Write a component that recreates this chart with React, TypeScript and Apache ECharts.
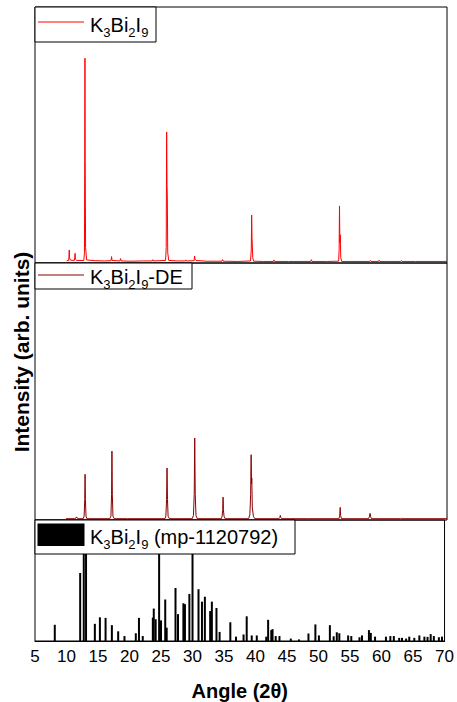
import { useEffect, useRef } from 'react';
import * as echarts from 'echarts';

const FONT = 'Arial, "Liberation Sans", sans-serif';

// x axis
const xMin = 5;
const xMax = 70;
const xStep = 5;

// Measured K3Bi2I9 pattern (angle, relative intensity)
const measuredPattern: [number, number][] = [
  [10.0, 0.9], [10.3, 1.0], [10.36, 2.5], [10.4, 5.1], [10.45, 2.0], [10.6, 1.1],
  [11.2, 1.0], [11.27, 2.0], [11.32, 3.8], [11.38, 1.5], [11.6, 1.0],
  [12.7, 1.0], [12.8, 4], [12.85, 45], [12.88, 80], [12.92, 40], [12.98, 6], [13.15, 1.2],
  [14.5, 0.9], [16.0, 0.8], [17.0, 0.9], [17.08, 2.5], [17.16, 1.0],
  [18.4, 0.8], [18.5, 1.7], [18.6, 0.8],
  [20.0, 0.7], [22.0, 0.8], [23.5, 0.8], [23.6, 1.3], [23.7, 0.8],
  [25.6, 1.0], [25.7, 6], [25.77, 51.2], [25.83, 30], [25.87, 27], [25.94, 4], [26.1, 1.0],
  [27.5, 0.8], [28.7, 0.8], [28.8, 1.2], [28.9, 0.8],
  [30.1, 0.9], [30.18, 2.7], [30.25, 1.5], [30.4, 1.0],
  [32.0, 0.7], [34.5, 0.7], [34.6, 1.3], [34.7, 0.7], [37.0, 0.6],
  [39.0, 0.8], [39.12, 5], [39.18, 18.75], [39.24, 10], [39.3, 10], [39.36, 2], [39.5, 0.7],
  [41.0, 0.6], [42.6, 0.6], [42.7, 1.2], [42.8, 0.6], [45.0, 0.6],
  [48.5, 0.6], [48.6, 1.3], [48.7, 0.6], [51.0, 0.6],
  [52.9, 0.7], [52.98, 5], [53.04, 22.3], [53.1, 8], [53.16, 11], [53.24, 2], [53.4, 0.6],
  [55.0, 0.6], [57.8, 0.6], [57.9, 1.0], [58.0, 0.6],
  [59.2, 0.6], [59.3, 1.1], [59.4, 0.6], [61.0, 0.6],
  [62.7, 0.6], [62.8, 1.0], [62.9, 0.6], [65.0, 0.6], [70.0, 0.6],
];

// K3Bi2I9-DE pattern (angle, relative intensity)
const dePattern: [number, number][] = [
  [9.9, 0.5], [11.3, 0.5], [11.45, 0.8], [11.55, 1.2], [11.65, 0.7], [11.9, 0.5],
  [12.6, 0.5], [12.75, 1.5], [12.85, 8], [12.9, 17.8], [12.95, 8], [13.05, 1.5], [13.2, 0.5],
  [16.8, 0.5], [16.98, 1.5], [17.08, 10], [17.14, 26.8], [17.2, 10], [17.3, 1.5], [17.5, 0.5],
  [19.4, 0.5], [19.5, 0.7], [19.6, 0.5],
  [25.5, 0.5], [25.65, 1.5], [25.76, 8], [25.83, 20.2], [25.9, 8], [26.0, 1.5], [26.2, 0.5],
  [29.8, 0.5], [30.0, 1.8], [30.12, 10], [30.2, 31.9], [30.28, 10], [30.4, 1.8], [30.6, 0.5],
  [34.4, 0.5], [34.52, 1.5], [34.62, 4], [34.67, 8.9], [34.73, 4], [34.82, 1.5], [35.0, 0.5],
  [38.7, 0.5], [38.9, 2], [39.02, 10], [39.1, 25.4], [39.16, 14], [39.2, 16.3], [39.28, 5], [39.45, 1.5], [39.7, 0.5],
  [43.5, 0.5], [43.62, 1.0], [43.7, 1.8], [43.78, 1.0], [43.9, 0.5],
  [48.2, 0.5], [48.3, 0.6], [48.4, 0.5],
  [52.95, 0.5], [53.07, 1.5], [53.15, 4.9], [53.22, 1.8], [53.35, 0.5],
  [57.6, 0.5], [57.75, 1.2], [57.86, 2.6], [57.97, 1.2], [58.1, 0.5],
  [62.7, 0.5], [62.8, 0.7], [62.9, 0.5], [70.0, 0.5],
];

// Reference pattern mp-1120792: stick positions and heights
const refAngles: number[] = [
  8.14, 12.17, 12.74, 13.1, 14.5, 15.3, 16.2, 17.2, 18.2, 19.2,
  21.0, 21.5, 22.1, 23.7, 23.85, 24.15, 24.7, 25.0, 25.67, 25.9,
  27.3, 27.7, 28.55, 28.8, 29.5, 30.0, 30.95, 31.5, 31.96, 32.8,
  33.07, 33.8, 34.3, 36.0, 36.9, 38.1, 38.6, 39.4, 40.2, 41.7,
  42.0, 42.5, 42.7, 43.2, 43.8, 45.6, 46.9, 48.4, 49.5, 50.06,
  51.8, 52.4, 52.9, 53.3, 54.7, 55.2, 56.5, 56.9, 58.0, 58.3,
  58.97, 60.7, 61.4, 61.95, 62.8, 63.25, 63.9, 64.4, 65.2, 66.0,
  66.8, 67.3, 67.8, 68.3, 69.1, 69.6,
];
const refIntensities: number[] = [
  13.4, 56.2, 100, 100, 14.2, 19.6, 19.1, 13.1, 8.0, 4.1,
  6.4, 19.1, 4.1, 19.3, 26.8, 18.0, 100, 17.0, 34.3, 11.0,
  43.8, 22.2, 31.2, 30.4, 38.9, 100, 42.8, 32.5, 36.6, 24.7,
  32.5, 27.3, 7.5, 15.5, 3.6, 5.4, 20.4, 4.6, 4.6, 3.6,
  17.5, 9.0, 9.8, 4.1, 4.1, 2.0, 1.3, 6.2, 13.7, 4.6,
  13.1, 3.9, 7.2, 6.4, 4.6, 4.1, 3.1, 4.6, 9.0, 6.7,
  3.6, 3.6, 4.1, 4.1, 2.6, 2.6, 2.0, 3.6, 2.6, 4.6,
  3.6, 3.4, 5.7, 4.1, 3.1, 3.6,
];

const xAxisTitle = 'Angle (2θ)';
const yAxisTitle = 'Intensity (arb. units)';

const richStyles = {
  m: { fontSize: 20, lineHeight: 28, fontFamily: FONT, fill: '#000' },
  s: { fontSize: 13, lineHeight: 10, verticalAlign: 'bottom', fontFamily: FONT, fill: '#000' },
};

export default function App() {
  const ref = useRef<HTMLDivElement>(null);

  useEffect(() => {
    if (!ref.current) return;
    const chart = echarts.init(ref.current, undefined, { renderer: 'svg' });

    const grids = [
      { left: 35, top: 7, width: 412, height: 256 },
      { left: 35, top: 263, width: 412, height: 257 },
      { left: 35, top: 520, width: 412, height: 130 },
    ].map((g) => ({ ...g, show: true, borderColor: '#000', borderWidth: 1, backgroundColor: 'transparent' }));

    const xAxes = [0, 1, 2].map((i) => ({
      gridIndex: i,
      type: 'value',
      min: xMin,
      max: xMax,
      interval: xStep,
      show: i === 2,
      axisLine: { show: true, lineStyle: { color: '#000', width: 1 } },
      axisTick: { show: false },
      splitLine: { show: false },
      axisLabel: { show: true, fontSize: 17, color: '#000', fontFamily: FONT, margin: 7 },
      name: i === 2 ? xAxisTitle : '',
      nameLocation: 'middle',
      nameGap: 20,
      nameTextStyle: { fontSize: 20, fontWeight: 'bold', color: '#000', fontFamily: FONT, padding: [20, 0, 0, 0] },
    }));

    const yAxes = [0, 1, 2].map((i) => ({
      gridIndex: i,
      type: 'value',
      min: 0,
      max: 100,
      show: false,
      splitLine: { show: false },
    }));

    const Z = 100;

    chart.setOption({
      animation: false,
      backgroundColor: '#fff',
      grid: grids,
      xAxis: xAxes,
      yAxis: yAxes,
      series: [
        {
          type: 'line',
          xAxisIndex: 0,
          yAxisIndex: 0,
          data: measuredPattern,
          symbol: 'none',
          lineStyle: { color: '#ff0000', width: 1 },
          itemStyle: { color: '#ff0000' },
        },
        {
          type: 'line',
          xAxisIndex: 1,
          yAxisIndex: 1,
          data: dePattern,
          symbol: 'none',
          lineStyle: { color: '#8b0000', width: 1 },
          itemStyle: { color: '#8b0000' },
        },
        {
          type: 'bar',
          xAxisIndex: 2,
          yAxisIndex: 2,
          data: refAngles.map((a, i) => [a, refIntensities[i]]),
          barWidth: 2,
          itemStyle: { color: '#000' },
        },
      ],
      graphic: [
        {
          type: 'text',
          x: 21,
          y: 352,
          rotation: Math.PI / 2,
          z: Z,
          style: {
            text: yAxisTitle,
            fontSize: 21,
            fontWeight: 'bold',
            fontFamily: FONT,
            fill: '#000',
            align: 'center',
            verticalAlign: 'middle',
          },
        },
        // legend: measured
        { type: 'rect', z: Z, shape: { x: 35, y: 7, width: 121, height: 35 }, style: { fill: '#fff', stroke: '#000', lineWidth: 1 } },
        { type: 'line', z: Z + 1, shape: { x1: 38, y1: 22, x2: 84, y2: 22 }, style: { stroke: '#ff0000', lineWidth: 1 } },
        {
          type: 'text',
          z: Z + 1,
          x: 90,
          y: 25,
          style: { text: '{m|K}{s|3}{m|Bi}{s|2}{m|I}{s|9}', rich: richStyles, verticalAlign: 'middle', align: 'left' },
        },
        // legend: DE
        { type: 'rect', z: Z, shape: { x: 35, y: 263, width: 157, height: 26 }, style: { fill: '#fff', stroke: '#000', lineWidth: 1 } },
        { type: 'line', z: Z + 1, shape: { x1: 38, y1: 275, x2: 84, y2: 275 }, style: { stroke: '#8b0000', lineWidth: 1 } },
        {
          type: 'text',
          z: Z + 1,
          x: 90,
          y: 277,
          style: { text: '{m|K}{s|3}{m|Bi}{s|2}{m|I}{s|9}{m|-DE}', rich: richStyles, verticalAlign: 'middle', align: 'left' },
        },
        // legend: reference
        { type: 'rect', z: Z, shape: { x: 35, y: 520, width: 260, height: 34 }, style: { fill: '#fff', stroke: '#000', lineWidth: 1 } },
        { type: 'rect', z: Z + 1, shape: { x: 37.5, y: 523.5, width: 47, height: 22.5 }, style: { fill: '#000' } },
        {
          type: 'text',
          z: Z + 1,
          x: 90,
          y: 536.5,
          style: { text: '{m|K}{s|3}{m|Bi}{s|2}{m|I}{s|9}{m| (mp-1120792)}', rich: richStyles, verticalAlign: 'middle', align: 'left' },
        },
      ],
    });

    return () => chart.dispose();
  }, []);

  return <div ref={ref} style={{ position: 'absolute', left: 0, top: 0, width: 457, height: 702 }} />;
}
